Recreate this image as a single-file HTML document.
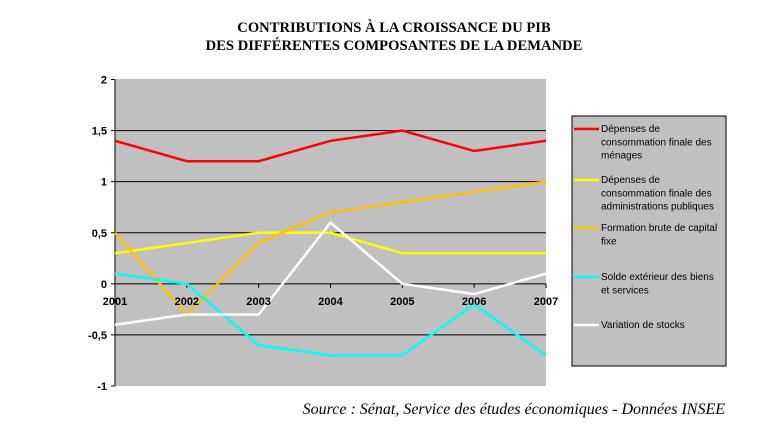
<!DOCTYPE html>
<html><head><meta charset="utf-8"><style>
body{margin:0;background:#fff;width:762px;height:434px;overflow:hidden}
svg{display:block}
</style></head><body>
<svg width="762" height="434" xmlns="http://www.w3.org/2000/svg">
<text x="394" y="32" text-anchor="middle" font-family="Liberation Serif, serif" font-weight="bold" font-size="14.6">CONTRIBUTIONS À LA CROISSANCE DU PIB</text>
<text x="394" y="50" text-anchor="middle" font-family="Liberation Serif, serif" font-weight="bold" font-size="14.6">DES DIFFÉRENTES COMPOSANTES DE LA DEMANDE</text>
<rect x="115" y="79" width="431" height="307" fill="#c0c0c0"/>
<g id="grid"></g>
<g id="series"></g>
<g id="labels"></g>
<rect x="572" y="116" width="154" height="250" fill="#c0c0c0" stroke="#000" stroke-width="1"/>
<g id="legend" font-family="Liberation Sans, sans-serif" font-size="10" fill="#000"></g>
<text x="725" y="414" text-anchor="end" font-family="Liberation Serif, serif" font-style="italic" font-size="16">Source : Sénat, Service des études économiques - Données INSEE</text>
</svg>
<script>
const years=["2001","2002","2003","2004","2005","2006","2007"];
const yTicks=[2,1.5,1,0.5,0,-0.5,-1];
const yTickLabels=["2","1,5","1","0,5","0","-0,5","-1"];
const menages=[1.4,1.2,1.2,1.4,1.5,1.3,1.4];
const admin=[0.3,0.4,0.5,0.5,0.3,0.3,0.3];
const fbcf=[0.5,-0.3,0.4,0.7,0.8,0.9,1.0];
const solde=[0.1,0,-0.6,-0.7,-0.7,-0.2,-0.7];
const stocks=[-0.4,-0.3,-0.3,0.6,0,-0.1,0.1];
const seriesNames=["Dépenses de consommation finale des ménages","Dépenses de consommation finale des administrations publiques","Formation brute de capital fixe","Solde extérieur des biens et services","Variation de stocks"];
const NS="http://www.w3.org/2000/svg";
const X0=115,X1=546,Y0=386,Y1=79.5;
const xs=i=>X0+i*(X1-X0)/(years.length-1);
const ys=v=>Y0-(v+1)*(Y0-Y1)/3;
function mk(t,a,p){const e=document.createElementNS(NS,t);for(const k in a)e.setAttribute(k,a[k]);p.appendChild(e);return e;}
const grid=document.getElementById('grid'),ser=document.getElementById('series'),lab=document.getElementById('labels'),leg=document.getElementById('legend');
yTicks.forEach((v,i)=>{
 if(v!==2&&v!==-1){const l=mk('line',{x1:X0,x2:X1,y1:ys(v),y2:ys(v),stroke:'#000','stroke-width':1},grid);
 
 }
 const tk=mk('line',{x1:X0-4,x2:X0,y1:ys(v),y2:ys(v),stroke:'#000'},grid);
 
 
 const t=mk('text',{x:X0-8,y:ys(v)+4,'text-anchor':'end','font-family':'Liberation Sans, sans-serif','font-weight':'bold','font-size':11},lab);
 t.textContent=yTickLabels[i];
 
 
});
const ax=mk('line',{x1:X0,x2:X0,y1:Y1,y2:Y0,stroke:'#000','stroke-width':1},grid);


years.forEach((y,i)=>{
 const tk=mk('line',{x1:xs(i),x2:xs(i),y1:ys(0),y2:ys(0)+4,stroke:'#000'},grid);
 
 
});
const data=[menages,admin,fbcf,solde,stocks];
const colors=["#ff0000","#ffff00","#ffc000","#00ffff","#ffffff"];
data.forEach((d,s)=>{
 const p=mk('polyline',{points:d.map((v,i)=>xs(i)+','+ys(v)).join(' '),fill:'none',stroke:colors[s],'stroke-width':2.5,'stroke-linejoin':'miter'},ser);
 
 
});
years.forEach((y,i)=>{
 const t=mk('text',{x:xs(i),y:ys(0)+21,'text-anchor':'middle','font-family':'Liberation Sans, sans-serif','font-weight':'bold','font-size':11},lab);
 t.textContent=y;
 
 
});
const legLines=[["Dépenses de","consommation finale des","ménages"],["Dépenses de","consommation finale des","administrations publiques"],["Formation brute de capital","fixe"],["Solde extérieur des biens","et services"],["Variation de stocks"]];
const legY=[129,180,228,277,325];
legLines.forEach((lines,s)=>{
 const l=mk('line',{x1:574,x2:599,y1:legY[s],y2:legY[s],stroke:colors[s],'stroke-width':2.5},leg);
 
 
 lines.forEach((tx,j)=>{
  const t=mk('text',{x:601,y:legY[s]+3+j*13.3},leg);
  t.textContent=tx;
  
  
 });
});
</script>
</body></html>
